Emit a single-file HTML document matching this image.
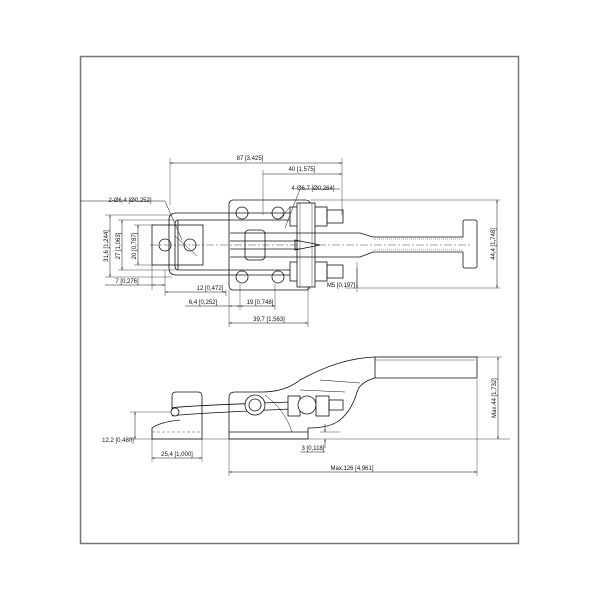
<!DOCTYPE html>
<html><head><style>
html,body{margin:0;padding:0;background:#fff;}
svg{display:block;}
text{font-family:"Liberation Sans",sans-serif;font-size:6px;fill:#111;}
</style></head><body>
<svg width="600" height="600" viewBox="0 0 600 600" xmlns="http://www.w3.org/2000/svg">
<defs>
<marker id="a" viewBox="0 0 10 10" refX="10" refY="5" markerWidth="5" markerHeight="5" orient="auto-start-reverse"><path d="M0,2 L10,5 L0,8z" fill="#222"/></marker>
</defs>
<rect x="80.5" y="56.5" width="438" height="487" fill="none" stroke="#777" stroke-width="1.5"/>
<g stroke="#111" fill="none" stroke-width="0.8">
<g stroke-width="0.4">
<line x1="170" y1="158" x2="170" y2="205"/><line x1="342" y1="158" x2="342" y2="215"/>
<line x1="263" y1="170" x2="263" y2="215"/>
<line x1="310" y1="200" x2="500" y2="200"/><line x1="345" y1="288" x2="500" y2="288"/>
<line x1="105" y1="215" x2="172" y2="215"/><line x1="105" y1="277" x2="172" y2="277"/>
<line x1="118" y1="220" x2="175" y2="220"/><line x1="118" y1="270" x2="175" y2="270"/>
<line x1="134" y1="225" x2="155" y2="225"/><line x1="134" y1="265" x2="155" y2="265"/>
<line x1="165" y1="270" x2="165" y2="296"/><line x1="152" y1="265" x2="152" y2="290"/>
<line x1="226" y1="290" x2="226" y2="296"/><line x1="229" y1="290" x2="229" y2="327"/>
<line x1="240" y1="284" x2="240" y2="310"/><line x1="275" y1="284" x2="275" y2="310"/>
<line x1="308" y1="287" x2="308" y2="327"/><line x1="357" y1="262" x2="357" y2="292"/>
<line x1="150" y1="245" x2="470" y2="245" stroke-dasharray="8,2,2,2"/>
</g>
<g stroke-width="0.5">
<line x1="170" y1="163" x2="342" y2="163" marker-start="url(#a)" marker-end="url(#a)"/>
<line x1="263" y1="174" x2="342" y2="174" marker-end="url(#a)"/>
<line x1="497" y1="200" x2="497" y2="288" marker-start="url(#a)" marker-end="url(#a)"/>
<line x1="110" y1="215" x2="110" y2="277" marker-start="url(#a)" marker-end="url(#a)"/>
<line x1="122" y1="220" x2="122" y2="270" marker-start="url(#a)" marker-end="url(#a)"/>
<line x1="138" y1="225" x2="138" y2="265" marker-start="url(#a)" marker-end="url(#a)"/>
<line x1="105" y1="285" x2="152" y2="285"/><line x1="152" y1="285" x2="165" y2="285" marker-start="url(#a)" marker-end="url(#a)"/>
<line x1="165" y1="292" x2="226" y2="292" marker-start="url(#a)" marker-end="url(#a)"/>
<line x1="185" y1="306" x2="229" y2="306"/><line x1="229" y1="306" x2="240" y2="306" marker-start="url(#a)" marker-end="url(#a)"/>
<line x1="240" y1="306" x2="275" y2="306" marker-start="url(#a)" marker-end="url(#a)"/>
<line x1="229" y1="323" x2="308" y2="323" marker-start="url(#a)" marker-end="url(#a)"/>
<line x1="357" y1="268" x2="357" y2="288" marker-end="url(#a)"/>
<polyline points="80,201 165,201 182,240"/>
<line x1="175" y1="236" x2="197" y2="256"/>
<polyline points="340,189 300,189 285,228"/>
<line x1="280" y1="218" x2="290" y2="207"/>
</g>
<rect x="229" y="200" width="81" height="90" rx="4"/>
<circle cx="242" cy="213" r="6"/><circle cx="278" cy="213" r="6"/>
<circle cx="242" cy="277" r="6"/><circle cx="278" cy="277" r="6"/>
<rect x="152" y="225" width="51" height="40"/>
<circle cx="165" cy="245" r="6"/><circle cx="190" cy="245" r="6"/>
<path d="M290,213 H176 Q169,213 169,220 V268 Q169,275 176,275 H290"/>
<path d="M290,220 H178 Q175,220 175,224 V266 Q175,270 178,270 H290"/>
<line x1="178" y1="220" x2="178" y2="270"/>
<rect x="290" y="207" width="37" height="19"/><rect x="327" y="210" width="16" height="13"/>
<rect x="290" y="262" width="37" height="19"/><rect x="327" y="265" width="16" height="13"/>
<rect x="297" y="203" width="18" height="84" fill="#fff"/>
<line x1="300" y1="203" x2="300" y2="287" stroke-width="0.4"/>
<line x1="312" y1="203" x2="312" y2="287" stroke-width="0.4"/>
<rect x="245" y="230" width="20" height="30" rx="4"/>
<path d="M230,233 H360 L373,237 H463"/><path d="M230,257 H360 L373,252 H463"/>
<line x1="230" y1="241" x2="300" y2="241"/><line x1="230" y1="249" x2="300" y2="249"/>
<path d="M295,240 L320,245 L295,250z"/>
<line x1="373" y1="239" x2="463" y2="239" stroke-dasharray="1,1" stroke-width="0.4"/>
<line x1="373" y1="250" x2="463" y2="250" stroke-dasharray="1,1" stroke-width="0.4"/>
<path d="M463,237 V222 Q463,220 465,220 H475 Q477,220 477,222 V266 Q477,268 475,268 H465 Q463,268 463,266 V252"/>
<g stroke-width="0.4">
<line x1="130" y1="412" x2="172" y2="412"/><line x1="130" y1="439" x2="510" y2="439"/>
<line x1="152" y1="439" x2="152" y2="462"/><line x1="202" y1="439" x2="202" y2="462"/>
<line x1="229" y1="439" x2="229" y2="476"/><line x1="477" y1="380" x2="477" y2="476"/>
<line x1="378" y1="357" x2="502" y2="357"/>
<line x1="320" y1="432" x2="340" y2="432"/>
</g>
<g stroke-width="0.5">
<line x1="135" y1="412" x2="135" y2="439" marker-start="url(#a)" marker-end="url(#a)"/>
<line x1="152" y1="458" x2="202" y2="458" marker-start="url(#a)" marker-end="url(#a)"/>
<line x1="229" y1="472" x2="477" y2="472" marker-start="url(#a)" marker-end="url(#a)"/>
<line x1="498" y1="357" x2="498" y2="439" marker-start="url(#a)" marker-end="url(#a)"/>
<line x1="325" y1="424" x2="325" y2="432" marker-end="url(#a)"/>
<line x1="325" y1="448" x2="325" y2="439" marker-end="url(#a)"/>
<line x1="300" y1="452" x2="325" y2="452"/>
</g>
<path d="M172,412 V396 Q172,392 176,392 H198 Q202,392 202,396 V439 H152 V428 Q160,422 180,420"/>
<line x1="152" y1="432" x2="202" y2="432" stroke-dasharray="3,2" stroke-width="0.4"/>
<path d="M229,439 V398 Q229,392 235,392 H262 Q285,392 300,380 Q340,358 375,357"/>
<path d="M375,378 Q360,382 357,392 Q352,410 340,420 Q330,428 308,428 V439 H229"/>
<line x1="229" y1="432" x2="308" y2="432"/>
<path d="M375,357 H477 V378 H375 Z"/><line x1="375" y1="360" x2="475" y2="360" stroke-width="0.4"/>
<line x1="320" y1="380" x2="360" y2="383" stroke-width="0.5"/>
<line x1="300" y1="390" x2="345" y2="392" stroke-width="0.5"/>
<path d="M265,395 Q285,410 292,432" stroke-width="0.5"/>
<path d="M172,408 Q178,406 290,402"/><path d="M172,416 Q180,414 290,409"/>
<circle cx="175" cy="412" r="4" fill="#fff"/>
<circle cx="255" cy="405" r="10" fill="#fff"/><circle cx="255" cy="405" r="6"/>
<rect x="288" y="396" width="12" height="20" fill="#fff"/>
<circle cx="307" cy="405" r="9" fill="#fff"/>
<rect x="316" y="396" width="13" height="20" fill="#fff"/>
<rect x="329" y="400" width="14" height="10"/>
</g>
<text x="250" y="160" text-anchor="middle">87 [3,425]</text>
<text x="302" y="171" text-anchor="middle">40 [1,575]</text>
<text x="313" y="190" text-anchor="middle">4-Ø6,7 [Ø0,264]</text>
<text x="130" y="202" text-anchor="middle">2-Ø6,4 [Ø0,252]</text>
<text x="127" y="283" text-anchor="middle">7 [0,276]</text>
<text x="210" y="290" text-anchor="middle">12 [0,472]</text>
<text x="203" y="304" text-anchor="middle">6,4 [0,252]</text>
<text x="260" y="304" text-anchor="middle">19 [0,748]</text>
<text x="269" y="321" text-anchor="middle">39,7 [1,563]</text>
<text x="341" y="287" text-anchor="middle">M5 [0,197]</text>
<text transform="translate(108,246) rotate(-90)" text-anchor="middle">31,6 [1,244]</text>
<text transform="translate(120,246) rotate(-90)" text-anchor="middle">27 [1,063]</text>
<text transform="translate(136,246) rotate(-90)" text-anchor="middle">20 [0,787]</text>
<text transform="translate(495,244) rotate(-90)" text-anchor="middle">44,4 [1,748]</text>
<text x="118" y="442" text-anchor="middle">12,2 [0,480]</text>
<text x="177" y="456" text-anchor="middle">25,4 [1,000]</text>
<text x="313" y="450" text-anchor="middle">3 [0,118]</text>
<text x="352" y="470" text-anchor="middle">Max.126 [4,961]</text>
<text transform="translate(496,398) rotate(-90)" text-anchor="middle">Max.44 [1,732]</text>
</svg>
</body></html>
